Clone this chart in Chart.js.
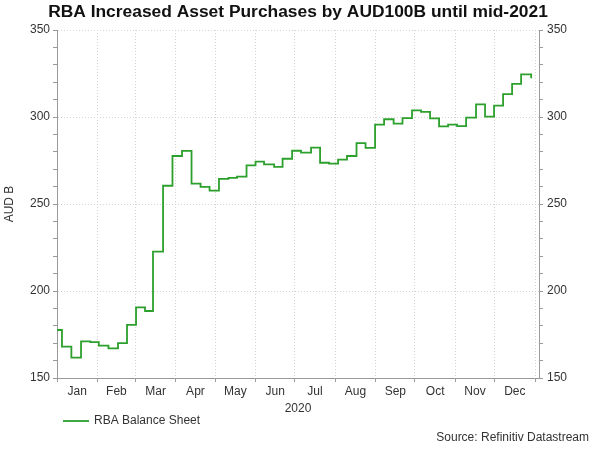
<!DOCTYPE html>
<html><head><meta charset="utf-8">
<script src="https://cdn.jsdelivr.net/npm/chart.js@4.4.1/dist/chart.umd.min.js"></script>
<style>html,body{margin:0;padding:0;background:#fff;} #wrap{width:600px;height:456px;position:relative;}</style>
</head><body><div id="wrap"><canvas id="c"></canvas></div>
<script>
const chartTitle = 'RBA Increased Asset Purchases by AUD100B until mid-2021';
const sourceText = 'Source: Refinitiv Datastream';
const seriesName = 'RBA Balance Sheet';
const yAxisTitle = 'AUD B';
const yearLabel = '2020';
const monthLabels = ['Jan','Feb','Mar','Apr','May','Jun','Jul','Aug','Sep','Oct','Nov','Dec'];
const monthStartDays = [0,31,60,91,121,152,182,213,244,274,305,335,366];
const yMajorTicks = [150,200,250,300,350];
// day of year (2020) at which each weekly level starts
const weekDays = [0,3.8,11,18.4,25.5,32,39.4,46.7,53.6,60.5,67.4,73.5,81.2,88.4,95.7,103,109.9,116.8,124,131.3,137.8,145.1,152,158.5,166.2,172.7,180,186.8,194.5,201.4,208.3,215.2,222,229.3,236.2,243.5,250.4,257.7,264.5,271.8,278.7,285.6,292.5,299.4,306.3,313.2,320.8,327.7,334.6,341.5,348.4,355.3,363];
// RBA balance sheet, AUD B
const balanceSheet = [177.6,168,161.7,171.0,170.6,168.6,167,170,180.5,190.6,188.5,222.6,260.5,277.6,280.5,261.7,259.8,257.7,264.4,265,265.7,272.2,274.3,272.8,271.3,276,280.6,279.5,282.4,273.7,273.2,275.5,277.6,285,282.2,295.6,298.7,296.2,299.4,303.8,303,299.2,294.6,295.6,294.8,299.6,307.3,300.2,306.5,313.2,319,324.5,322.2];

const FONT = "'Liberation Sans', Arial, sans-serif";
const LINE = 'rgb(44,160,44)';
const AXIS = '#9a9a9a';
const GRID = '#d4d4d4';
const TXT = '#333333';

const monthMids = monthLabels.map((m,i)=> (monthStartDays[i]+monthStartDays[i+1])/2);
const xTickVals = monthStartDays.concat(monthMids).sort((a,b)=>a-b);
const isStart = v => monthStartDays.indexOf(v) >= 0;

const extras = {
  id: 'extras',
  afterDraw(chart) {
    const ctx = chart.ctx;
    ctx.save();
    ctx.fillStyle = '#111';
    ctx.font = "bold 17.4px " + FONT;
    ctx.textAlign = 'center';
    ctx.textBaseline = 'middle';
    ctx.fillText(chartTitle, 298, 12);
    // legend
    ctx.strokeStyle = LINE;
    ctx.lineWidth = 1.8;
    ctx.beginPath(); ctx.moveTo(63, 421); ctx.lineTo(89, 421); ctx.stroke();
    ctx.fillStyle = TXT;
    ctx.font = "12px " + FONT;
    ctx.textAlign = 'left';
    ctx.fillText(seriesName, 94, 421);
    ctx.textAlign = 'right';
    ctx.fillText(sourceText, 589, 438);
    ctx.restore();
  }
};

new Chart(document.getElementById('c'), {
  type: 'line',
  data: {
    datasets: [{
      label: seriesName,
      data: weekDays.map((d,i)=>({x:d, y:balanceSheet[i]})),
      borderColor: LINE,
      borderWidth: 1.8,
      pointRadius: 0,
      stepped: 'before',
      fill: false,
      xAxisID: 'x',
      yAxisID: 'y'
    }]
  },
  options: {
    responsive: true,
    maintainAspectRatio: false,
    animation: false,
    layout: { padding: { top: 30, left: 0, right: 0, bottom: 0 } },
    plugins: { legend: { display: false }, tooltip: { enabled: false }, title: { display: false } },
    scales: {
      x: {
        type: 'linear', position: 'bottom', min: 0, max: 369,
        afterBuildTicks: s => { s.ticks = xTickVals.map(v => ({ value: v })); },
        afterFit: s => { s.height = 78; },
        ticks: {
          autoSkip: false, maxRotation: 0, minRotation: 0, padding: 2, color: TXT,
          font: { family: FONT, size: 12 },
          callback: v => { const i = monthMids.indexOf(v); return i >= 0 ? monthLabels[i] : ''; }
        },
        grid: {
          color: c => (c.tick && isStart(c.tick.value)) ? GRID : 'rgba(0,0,0,0)',
          tickColor: c => (c.tick && isStart(c.tick.value)) ? AXIS : 'rgba(0,0,0,0)',
          tickLength: 4, lineWidth: 1
        },
        border: { display: true, color: AXIS, width: 1, dash: [1, 2] },
        title: { display: true, text: yearLabel, color: TXT, font: { family: FONT, size: 12 }, padding: { top: 0, bottom: 40 } }
      },
      y: {
        type: 'linear', position: 'left', min: 150, max: 350,
        afterFit: s => { s.width = 57; },
        ticks: {
          stepSize: 10, autoSkip: false, padding: 3, color: TXT,
          font: { family: FONT, size: 12 },
          callback: v => yMajorTicks.indexOf(v) >= 0 ? String(v) : ''
        },
        grid: {
          color: c => (c.tick && yMajorTicks.indexOf(c.tick.value) >= 0) ? GRID : 'rgba(0,0,0,0)',
          tickColor: AXIS, tickLength: 4, lineWidth: 1
        },
        border: { display: true, color: AXIS, width: 1, dash: [1, 2] },
        title: { display: true, text: yAxisTitle, color: TXT, font: { family: FONT, size: 12 }, padding: { top: 2, bottom: 0 } }
      },
      y2: {
        type: 'linear', position: 'right', min: 150, max: 350,
        afterFit: s => { s.width = 61; },
        ticks: {
          stepSize: 10, autoSkip: false, padding: 4, color: TXT,
          font: { family: FONT, size: 12 },
          callback: v => yMajorTicks.indexOf(v) >= 0 ? String(v) : ''
        },
        grid: { drawOnChartArea: false, tickColor: AXIS, tickLength: 4 },
        border: { display: true, color: AXIS, width: 1 }
      }
    }
  },
  plugins: [extras]
});
</script></body></html>
